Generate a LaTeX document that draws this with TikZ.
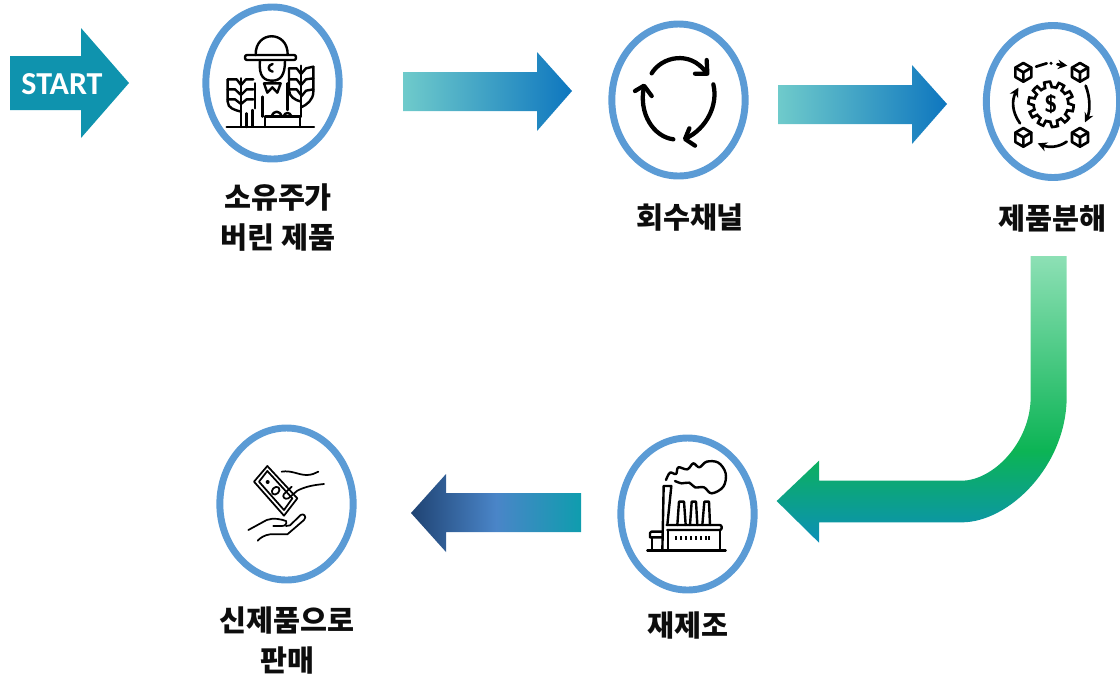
\documentclass[tikz,border=0pt]{standalone}
\usepackage{fontspec}
\newfontfamily\krfont{Noto Sans CJK KR}
\newfontfamily\startfont{Carlito}
\usetikzlibrary{shapes.geometric,arrows.meta}
\definecolor{ringblue}{HTML}{5B9BD5}
\definecolor{startteal}{HTML}{0F93AE}
\definecolor{aL}{HTML}{6FCBCB}
\definecolor{aR}{HTML}{0E76BF}
\definecolor{bL}{HTML}{1F4373}
\definecolor{bM}{HTML}{4A85C8}
\definecolor{bR}{HTML}{0F9DAE}
\definecolor{cT}{HTML}{8DE0B5}
\definecolor{cM}{HTML}{0CB455}
\definecolor{cB}{HTML}{0C8FB8}
\pgfdeclarehorizontalshading{teal2blue}{100bp}{color(0bp)=(aL); color(25bp)=(aL); color(75bp)=(aR); color(100bp)=(aR)}
\pgfdeclarehorizontalshading{navy2teal}{100bp}{color(0bp)=(bL); color(25bp)=(bL); color(50bp)=(bM); color(75bp)=(bR); color(100bp)=(bR)}
\pgfdeclareverticalshading{greenfall}{100bp}{color(0bp)=(cB); color(25bp)=(cB); color(41bp)=(cM); color(75bp)=(cT); color(100bp)=(cT)}
\tikzset{
  ring/.style={draw=ringblue,line width=5.2pt,fill=white,ellipse,minimum width=100pt,minimum height=114pt,inner sep=0pt},
  label/.style={font=\krfont\bfseries\fontsize{22}{22}\selectfont,text=black!95,inner sep=0pt,anchor=center},
  iconat/.style={shift={(#1)},x=0.25pt,y=-0.25pt,line cap=round,line join=round},
  thin icon/.style={line width=1.3pt},
  mid icon/.style={line width=1.8pt},
  bold icon/.style={line width=3.2pt},
  tinytip/.style={-{Stealth[length=7pt,width=7pt]}}
}
\begin{document}
\begin{tikzpicture}[x=0.75pt,y=-0.75pt]
\useasboundingbox (0,0) rectangle (1120,676);
% START arrow
\fill[startteal] (10,56) -- (81,56) -- (81,28) -- (129,83) -- (81,138) -- (81,110) -- (10,110) -- cycle;
\node[inner sep=0pt,text=white,font=\startfont\bfseries\fontsize{24}{24}\selectfont] (start) at (62,84) {START};
% gradient arrows
\shade[shading=teal2blue] (403,72) -- (537,72) -- (537,52) -- (572,91) -- (537,131) -- (537,111) -- (403,111) -- cycle;
\shade[shading=teal2blue] (778,85) -- (912,85) -- (912,65) -- (947,104) -- (912,144) -- (912,124) -- (778,124) -- cycle;
\shade[shading=navy2teal] (581,493) -- (446,493) -- (446,474) -- (411,513) -- (446,552) -- (446,532) -- (581,532) -- cycle;
\begin{scope}[iconat={770,250}]
\shade[shading=greenfall] (782,18) -- (890,18) -- (890,440) .. controls (890,647) and (717,817) .. (575,817) -- (147,817) -- (147,878) -- (20,753) -- (147,632) -- (147,692) -- (575,692) .. controls (668,692) and (782,579) .. (782,440) -- cycle;
\end{scope}
% rings
\node[ring] (farmer) at (272.5,83) {};
\node[ring] (cycle) at (678.5,100) {};
\node[ring] (parts) at (1053,101.5) {};
\node[ring] (factory) at (687.5,514) {};
\node[ring] (money) at (286.5,504) {};
% labels
\node[label] (l1a) at (278,198) {소유주가};
\node[label] (l1b) at (278,238) {버린 제품};
\node[label] (l2) at (690,218) {회수채널};
\node[label] (l3) at (1052,218) {제품분해};
\node[label] (l4) at (688,625) {재제조};
\node[label] (l5a) at (287,620) {신제품으로};
\node[label] (l5b) at (287,660) {판매};
% farmer icon
\begin{scope}[iconat={190,0},mid icon]
\draw[rounded corners=1.5pt] (165,165) rectangle (318,180);
\draw (197,165) .. controls (195,90) and (295,90) .. (293,165);
\draw (210,182) .. controls (205,232) and (225,242) .. (247,242) .. controls (272,242) and (285,225) .. (285,182);
\draw (248,192) .. controls (232,195) and (232,212) .. (248,215);
\draw (222,250) -- (232,278) -- (247,262) -- (262,278) -- (272,250) -- cycle;
\draw (195,250) -- (195,325);
\draw (188,330) -- (188,380);
\draw (292,250) -- (292,330);
\draw (225,381) -- (225,350) -- (330,350) -- (330,381);
\draw (245,350) .. controls (250,330) and (270,330) .. (275,350);
\draw (280,350) .. controls (285,335) and (300,335) .. (305,350);
\draw (218,290) -- (218,350);
\draw (110,381) -- (372,381);
% left wheat
\draw (153,235) -- (153,381);
\draw (170,381) -- (170,340);
\draw (113,238) -- (113,305) .. controls (113,325) and (135,330) .. (153,335);
\draw (113,238) -- (140,238) -- (153,255);
\draw (113,268) -- (135,268) -- (153,285);
\draw (113,298) -- (135,298) -- (153,312);
\draw (190,238) -- (168,238) -- (153,255);
\draw (190,268) -- (170,268) -- (153,285);
\draw (190,298) -- (170,298) -- (153,312);
% right wheat
\draw (333,197) -- (333,350);
\draw (297,205) -- (297,270) .. controls (297,290) and (315,300) .. (333,305);
\draw (370,200) -- (370,275) .. controls (370,300) and (350,315) .. (333,322);
\draw (297,205) -- (320,205) -- (333,222);
\draw (297,238) -- (320,238) -- (333,255);
\draw (297,268) -- (320,268) -- (333,285);
\draw (370,200) -- (348,205) -- (333,222);
\draw (370,235) -- (348,238) -- (333,255);
\draw (370,268) -- (348,272) -- (333,290);
\end{scope}
% recycling icon
\begin{scope}[iconat={600,15},bold icon]
\draw (155,175) .. controls (185,125) and (270,105) .. (318,172);
\draw (320,135) -- (322,176) -- (285,176);
\draw (340,208) .. controls (355,270) and (320,340) .. (258,370);
\draw (268,340) -- (255,372) -- (285,392);
\draw (220,373) .. controls (160,365) and (115,295) .. (132,215);
\draw (105,228) -- (132,212) -- (155,243);
\end{scope}
% parts icon
\begin{scope}[iconat={970,15},mid icon,line width=2pt]
\foreach \cx/\cy in {160/172,330/172,160/367,330/367}{
  \begin{scope}[shift={(\cx,\cy)}]
    \draw (0,-28) -- (24,-14) -- (24,14) -- (0,28) -- (-24,14) -- (-24,-14) -- cycle;
    \draw (-24,-14) -- (0,0) -- (24,-14) (0,0) -- (0,28);
  \end{scope}
}
\draw[tinytip] (262,148) -- (292,152);
\draw (198,155) -- (230,145);
\fill (243,145) circle (5);
\draw[tinytip] (347,212) .. controls (362,250) and (360,290) .. (345,322);
\draw[tinytip] (290,380) .. controls (265,398) and (235,398) .. (203,385);
\draw[tinytip] (150,325) .. controls (125,290) and (125,255) .. (145,218);
\begin{scope}[shift={(243,268)}]
\draw[line join=miter,domain=0:360,samples=145] plot ({\x}:{60+8*sign(sin(10*\x))}) -- cycle;
\end{scope}
\node[inner sep=0pt,font=\sffamily\bfseries\fontsize{18}{18}\selectfont] (dollar) at (243,268) {\$};
\end{scope}
% factory icon
\begin{scope}[iconat={610,430},mid icon]
\draw (112,362) -- (347,362);
\draw (157,362) -- (161,168) -- (184,168) -- (172,285);
\draw[rounded corners=1.5pt] (170,285) -- (335,285) -- (335,300) -- (172,300);
\draw (174,300) -- (174,362) (330,300) -- (330,362);
\draw[rounded corners=1pt] (120,322) -- (120,305) -- (157,305) (120,322) -- (157,322);
\draw (126,322) -- (126,362);
\draw (202,285) -- (207,215) -- (222,215) -- (227,285);
\draw (240,285) -- (245,215) -- (258,215) -- (262,285);
\draw (277,285) -- (283,215) -- (297,215) -- (300,285);
\foreach \wx in {197,212,227,242,257,272,287,298}{
  \fill (\wx-3,319) rectangle (\wx+3,330);
}
\draw plot[smooth,tension=.6] coordinates {(168,150) (180,128) (198,132) (205,112) (232,118) (250,100) (268,112) (290,95) (325,98) (347,130) (340,170) (305,190) (282,172) (255,172) (238,158) (215,160) (195,153)};
\end{scope}
% money icon
\begin{scope}[iconat={210,420},thin icon]
\draw (172,138) -- (262,235) -- (222,287) -- (132,185) -- cycle;
\draw (172,153) -- (247,235) -- (222,270) -- (147,185) -- cycle;
\fill (173,186) circle (6);
\draw[rotate around={45:(197,212)}] (197,212) ellipse (13 and 10);
\draw (215,155) .. controls (245,150) and (265,165) .. (290,165) .. controls (305,165) and (315,160) .. (325,155);
\draw (342,192) .. controls (310,195) and (285,200) .. (262,212) -- (235,235) .. controls (225,240) and (215,230) .. (222,222) -- (245,200);
\draw (115,330) -- (170,300) .. controls (190,292) and (215,298) .. (228,303) .. controls (232,312) and (225,318) .. (215,318) -- (190,318);
\draw (228,318) -- (240,316) -- (272,285) .. controls (280,278) and (292,290) .. (282,300) -- (232,343) -- (180,343) .. controls (165,345) and (152,352) .. (143,362);
\end{scope}
\end{tikzpicture}
\end{document}
